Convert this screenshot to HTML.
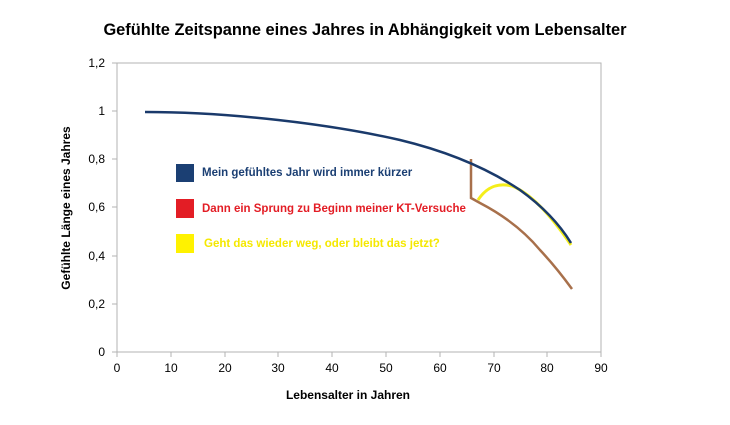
<!DOCTYPE html>
<html><head><meta charset="utf-8"><style>
body{margin:0;background:#fff;}
svg text{font-family:"Liberation Sans",Arial,sans-serif;}
</style></head><body>
<svg width="730" height="420" viewBox="0 0 730 420" xmlns="http://www.w3.org/2000/svg">
<rect width="730" height="420" fill="#fff"/>
<text x="365" y="35" text-anchor="middle" font-size="16.4" font-weight="bold" fill="#000">Gefühlte Zeitspanne eines Jahres in Abhängigkeit vom Lebensalter</text>
<rect x="117" y="63" width="484" height="289" fill="none" stroke="#b3b3b3" stroke-width="1"/>
<g stroke="#b3b3b3">
<line x1="112" y1="63" x2="117" y2="63"/><line x1="112" y1="111" x2="117" y2="111"/><line x1="112" y1="159" x2="117" y2="159"/><line x1="112" y1="207" x2="117" y2="207"/><line x1="112" y1="256" x2="117" y2="256"/><line x1="112" y1="304" x2="117" y2="304"/><line x1="112" y1="352" x2="117" y2="352"/>
<line x1="117" y1="352" x2="117" y2="357"/><line x1="171" y1="352" x2="171" y2="357"/><line x1="225" y1="352" x2="225" y2="357"/><line x1="278" y1="352" x2="278" y2="357"/><line x1="332" y1="352" x2="332" y2="357"/><line x1="386" y1="352" x2="386" y2="357"/><line x1="440" y1="352" x2="440" y2="357"/><line x1="494" y1="352" x2="494" y2="357"/><line x1="547" y1="352" x2="547" y2="357"/><line x1="601" y1="352" x2="601" y2="357"/>
</g>
<g font-size="12" fill="#000" text-anchor="end">
<text x="105" y="67">1,2</text><text x="105" y="115">1</text><text x="105" y="163">0,8</text><text x="105" y="211">0,6</text><text x="105" y="260">0,4</text><text x="105" y="308">0,2</text><text x="105" y="356">0</text>
</g>
<g font-size="12" fill="#000" text-anchor="middle">
<text x="117" y="372">0</text><text x="171" y="372">10</text><text x="225" y="372">20</text><text x="278" y="372">30</text><text x="332" y="372">40</text><text x="386" y="372">50</text><text x="440" y="372">60</text><text x="494" y="372">70</text><text x="547" y="372">80</text><text x="601" y="372">90</text>
</g>
<text x="348" y="399" text-anchor="middle" font-size="12" font-weight="bold">Lebensalter in Jahren</text>
<text transform="translate(70,208) rotate(-90)" text-anchor="middle" font-size="12" font-weight="bold">Gefühlte Länge eines Jahres</text>
<path d="M471,159 L471,198 L480,203 C505,216 525,232 540,250 C555,266 564,278 572,289" fill="none" stroke="#a8704b" stroke-width="2.5"/>
<path d="M478,200 C488,185 500,183 512,186 C530,193 550,214 571,245" fill="none" stroke="#f5ee1a" stroke-width="3"/>
<path d="M145,112 C230,112 330,124 400,140 C450,152 490,170 520,190 C545,208 560,225 571,243" fill="none" stroke="#1a3a6b" stroke-width="2.5"/>
<rect x="176" y="164" width="18" height="18" fill="#1b3f73"/>
<rect x="176" y="199" width="18" height="19" fill="#e31d25"/>
<rect x="176" y="234" width="18" height="19" fill="#fff200"/>
<text x="202" y="176" font-size="11.5" font-weight="bold" fill="#1b3f73">Mein gefühltes Jahr wird immer kürzer</text>
<text x="202" y="212" font-size="11.5" font-weight="bold" fill="#e31d25">Dann ein Sprung zu Beginn meiner KT-Versuche</text>
<text x="204" y="247" font-size="11.5" font-weight="bold" fill="#f5e800">Geht das wieder weg, oder bleibt das jetzt?</text>
</svg>
</body></html>
